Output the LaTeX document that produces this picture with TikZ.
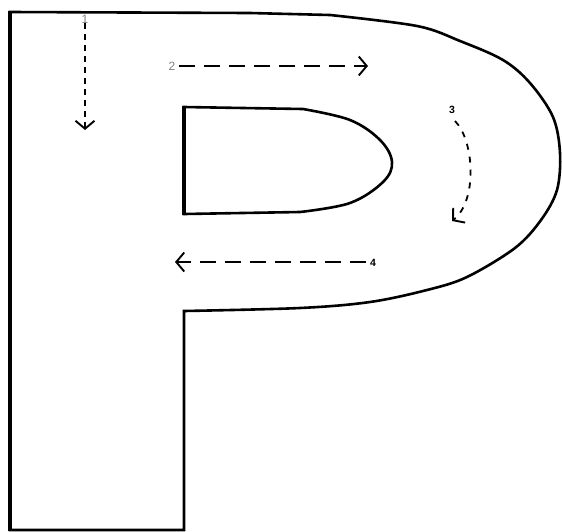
\documentclass[tikz,border=0pt]{standalone}
\usepackage{fontspec}
\setmainfont{Liberation Sans}
\usetikzlibrary{arrows.meta}
\begin{document}
\begin{tikzpicture}[x=1pt,y=-1pt,
  outline/.style={line width=2.6pt,line join=miter},
  flow/.style={line width=1.8pt,-{Straight Barb[length=8pt,width=19pt,line width=1.9pt]}},
  lbl/.style={font=\fontsize{12}{12}\selectfont,inner sep=0pt}]
\useasboundingbox (0,0) rectangle (562,531);
% outer outline of P
\draw[outline] (184,530) -- (10,530) -- (10,12) -- (250,13) -- (330,15)
  -- plot[smooth,tension=0.55] coordinates {(330,15) (417,26) (460,41) (503,60) (530,83) (553,117) (560,153) (557,190) (541,220) (515,248) (467,277) (427,290) (370,302) (300,308) (184,311)}
  -- cycle;
% left edge slightly heavier
\draw[line width=3.6pt] (10,11) -- (10,531);
% inner counter
\draw[outline] (184,107) -- (303,109)
  -- plot[smooth,tension=0.6] coordinates {(303,109) (350,120) (380,140) (392,162) (383,182) (350,203) (300,212)}
  -- (184,214) -- cycle;
\draw[line width=3.4pt] (184,106) -- (184,215);
% labels
\node[lbl,text=black!50] (l1) at (85,19) {1};
\node[lbl,text=black!50] (l2) at (172,66) {2};
\node[lbl,font=\fontsize{10.5}{10.5}\selectfont\bfseries] (l3) at (452,110) {3};
\node[lbl,font=\fontsize{10.5}{10.5}\selectfont\bfseries] (l4) at (373,263) {4};
% arrow ends
\coordinate (e1) at (85,130);
\coordinate (s2) at (179,66);
\coordinate (e2) at (368,66);
\coordinate (s3) at (455,121);
\coordinate (e3) at (452,221);
\coordinate (s4) at (366,262);
\coordinate (e4) at (175,262);
\draw[flow,dash pattern=on 6pt off 5pt] (l1.south) -- (e1);
\draw[flow,dash pattern=on 16pt off 9pt] (s2) -- (e2);
\draw[flow,dash pattern=on 6pt off 7pt] (s3) .. controls (474,140) and (478,200) .. (e3);
\draw[flow,dash pattern=on 16pt off 9pt] (s4) -- (e4);
\end{tikzpicture}
\end{document}
